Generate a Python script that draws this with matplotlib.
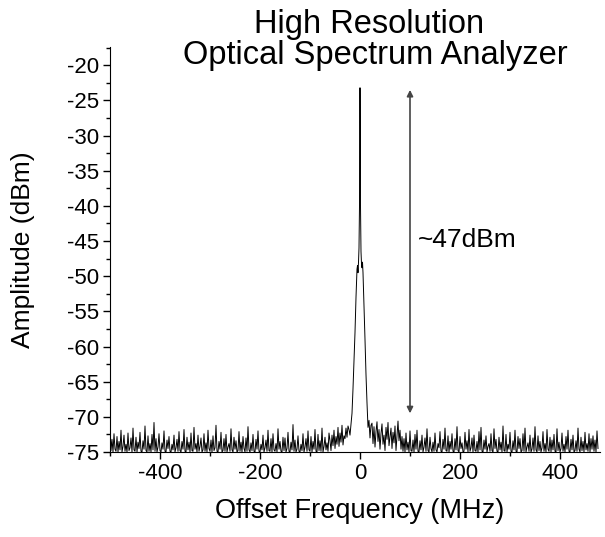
import matplotlib
matplotlib.use("Agg")
import matplotlib.pyplot as plt
import numpy as np

plt.rcParams['font.family'] = ['Liberation Sans', 'DejaVu Sans']
plt.rcParams['axes.unicode_minus'] = False

# Noise floor left of the carrier (-500 .. -24 MHz, step 2 MHz)
noise_left_start, noise_step = -500, 2
noise_left = [
    -71.0,-74.8,-73.2,-75.0,-72.4,-74.6,-74.9,-72.8,-75.0,-73.5,-74.7,-71.9,-75.0,-74.2,-72.6,-74.9,-73.9,-75.0,-72.3,-74.8,
    -74.4,-73.0,-75.0,-71.6,-74.7,-74.9,-72.9,-75.0,-73.6,-74.5,-72.2,-74.9,-75.0,-73.4,-74.6,-71.3,-74.8,-75.0,-72.7,-74.9,
    -73.8,-75.0,-72.5,-74.7,-70.8,-74.9,-73.1,-75.0,-74.3,-72.4,-74.8,-75.0,-73.7,-74.6,-72.0,-74.9,-75.0,-73.3,-74.5,-72.8,
    -74.9,-75.0,-73.9,-74.7,-72.6,-75.0,-74.4,-73.2,-74.9,-72.1,-74.8,-75.0,-73.5,-74.6,-71.8,-74.9,-75.0,-72.9,-74.7,-73.6,
    -75.0,-72.3,-74.8,-74.9,-71.5,-74.6,-73.8,-75.0,-72.6,-74.9,-74.2,-73.0,-75.0,-74.7,-72.4,-74.9,-73.7,-75.0,-71.9,-74.5,
    -74.9,-73.3,-75.0,-72.7,-74.8,-74.4,-71.2,-74.9,-75.0,-73.5,-74.6,-72.2,-75.0,-74.8,-73.1,-74.9,-72.5,-75.0,-74.3,-73.8,
    -74.9,-71.7,-74.7,-75.0,-72.9,-74.6,-73.4,-75.0,-74.8,-72.1,-74.9,-73.6,-75.0,-72.8,-74.5,-75.0,-73.0,-74.9,-71.4,-74.7,
    -75.0,-73.7,-74.8,-72.5,-74.9,-75.0,-73.2,-74.6,-72.0,-74.9,-75.0,-73.9,-74.7,-72.6,-75.0,-74.4,-73.3,-74.9,-71.9,-74.8,
    -74.9,-73.1,-75.0,-72.4,-74.7,-74.9,-73.8,-75.0,-71.7,-74.6,-73.5,-74.9,-75.0,-72.9,-74.8,-73.0,-75.0,-74.5,-72.2,-74.9,
    -75.0,-73.6,-74.7,-71.1,-74.9,-73.3,-75.0,-74.6,-72.7,-74.9,-75.0,-73.9,-74.8,-72.4,-75.0,-74.3,-73.1,-74.9,-72.0,-74.7,
    -74.9,-72.8,-75.0,-73.5,-74.6,-71.8,-74.9,-75.0,-72.5,-74.8,-73.4,-74.9,-71.6,-75.0,-74.2,-72.9,-74.7,-73.7,-74.9,-72.3,
    -73.4,-74.8,-72.6,-74.1,-71.9,-74.5,-72.8,-73.9,-71.5,-74.2,-72.3,-73.6,-71.2,-74.0,-72.7,-73.1,-71.6,-72.9,-71.3,
]

# Carrier peak region (MHz, dBm)
peak_x = [-22, -20, -18, -16, -14, -12, -10, -8, -6, -5, -4, -3, -2, -1, -0.5,
          0, 0.5, 1, 2, 3, 4, 5, 6, 8, 10, 12, 14, 16, 18, 20, 22]
peak_y = [-71.8, -72.6, -71.0, -69.5, -66.0, -62.0, -58.0, -53.0, -49.0, -48.5,
          -49.5, -48.0, -46.0, -40.0, -30.0, -23.2, -30.0, -40.0, -46.5, -48.2,
          -48.8, -48.0, -49.5, -54.0, -59.0, -64.0, -68.0, -71.5, -70.5, -73.0, -71.2]

# Noise floor right of the carrier (24 .. 476 MHz, step 2 MHz)
noise_right_start = 24
noise_right = [
    -70.9,-73.8,-71.4,-74.3,-72.1,-70.7,-73.5,-71.8,-74.6,-72.4,-71.0,-73.9,-72.6,-74.8,-71.5,-73.2,-70.8,-74.1,-72.9,-71.6,
    -74.5,-72.2,-73.7,-71.3,-74.8,-72.7,-70.6,-73.4,-71.9,-74.6,-72.8,-74.9,-73.1,-75.0,-72.3,-74.7,-73.6,-75.0,-72.0,-74.8,
    -74.9,-73.3,-75.0,-72.5,-74.6,-71.9,-74.9,-75.0,-73.4,-74.7,-72.6,-75.0,-74.3,-73.0,-74.9,-71.7,-74.8,-75.0,-72.9,-74.5,
    -75.0,-73.6,-74.9,-72.3,-74.7,-75.0,-73.8,-74.4,-72.1,-74.9,-75.0,-73.2,-74.6,-71.6,-74.8,-74.9,-72.7,-75.0,-73.5,-74.6,
    -72.4,-74.9,-75.0,-73.1,-74.7,-71.4,-74.8,-75.0,-72.8,-74.5,-73.7,-75.0,-74.9,-72.2,-74.6,-73.4,-75.0,-71.8,-74.9,-74.4,
    -73.0,-75.0,-72.6,-74.8,-74.9,-73.5,-75.0,-72.1,-74.7,-71.5,-74.9,-75.0,-73.3,-74.6,-72.7,-75.0,-74.2,-73.8,-74.9,-72.4,
    -74.8,-75.0,-71.7,-74.5,-73.2,-74.9,-75.0,-72.9,-74.7,-73.6,-75.0,-71.3,-74.8,-74.9,-72.5,-75.0,-73.9,-74.6,-72.2,-74.9,
    -75.0,-73.4,-74.7,-71.9,-74.9,-75.0,-72.8,-74.5,-73.1,-75.0,-74.8,-72.4,-74.9,-71.6,-75.0,-74.3,-73.7,-74.9,-72.6,-75.0,
    -74.6,-73.0,-74.9,-71.4,-74.7,-75.0,-72.7,-74.8,-73.5,-75.0,-74.4,-72.1,-74.9,-73.8,-75.0,-71.8,-74.6,-74.9,-72.9,-75.0,
    -73.3,-74.7,-72.5,-74.9,-75.0,-71.7,-74.8,-73.6,-75.0,-74.5,-72.3,-74.9,-73.9,-75.0,-72.8,-74.6,-71.9,-74.9,-75.0,-73.2,
    -74.7,-72.6,-75.0,-74.8,-73.4,-74.9,-71.6,-74.6,-75.0,-72.9,-74.8,-73.5,-75.0,-72.2,-74.7,-73.8,-74.9,-72.4,-75.0,-73.1,
    -74.6,-72.7,-74.9,-73.3,-75.0,-72.0,-74.5,
]

arrow_x = 100
arrow_top, arrow_bottom = -23.5, -69.5
annot_text = "~47dBm"

xl = noise_left_start + noise_step * np.arange(len(noise_left))
xr = noise_right_start + noise_step * np.arange(len(noise_right))
x = np.concatenate([xl, np.array(peak_x, float), xr])
y = np.concatenate([np.array(noise_left), np.array(peak_y), np.array(noise_right)])

fig = plt.figure(figsize=(6.05, 5.37), dpi=100)
ax = fig.add_axes([110/605, 1-452/537, 490/605, 405/537])
ax.plot(x, y, color='#000000', lw=0.7)

ax.set_xlim(-500, 480)
ax.set_ylim(-75, -17.4)
ax.spines['top'].set_visible(False)
ax.spines['right'].set_visible(False)
ax.set_xticks([-400, -200, 0, 200, 400])
ax.set_xticks(np.arange(-500, 481, 100), minor=True)
ax.set_yticks(np.arange(-75, -19, 5))
ax.set_yticks(np.arange(-75, -17, 2.5), minor=True)
ax.tick_params(which='major', length=5, width=1, labelsize=16, direction='out', pad=3)
ax.tick_params(which='minor', length=3, width=1, direction='out')
ax.set_ylabel('Amplitude (dBm)', fontsize=19)
ax.set_xlabel('Offset Frequency (MHz)', fontsize=19.5)
ax.yaxis.set_label_coords((23 - 110) / 490, 0.5)
ax.xaxis.set_label_coords((360 - 110) / 490, (452 - 511) / 405)
ax.xaxis.label.set_va('center')
ax.yaxis.label.set_va('center')

ax.annotate('', xy=(arrow_x, arrow_top), xytext=(arrow_x, arrow_bottom),
            arrowprops=dict(arrowstyle='<|-|>', color='#444', lw=1.2,
                            mutation_scale=9, shrinkA=0, shrinkB=0))
ax.text(arrow_x + 15, -44.8, annot_text, fontsize=19, va='center', ha='left')

fig.text(369/605, 1-33/537, 'High Resolution', fontsize=23.5, ha='center', va='baseline')
fig.text(375/605, 1-64/537, 'Optical Spectrum Analyzer', fontsize=23.5, ha='center', va='baseline')

fig.savefig('out.png', dpi=100)
